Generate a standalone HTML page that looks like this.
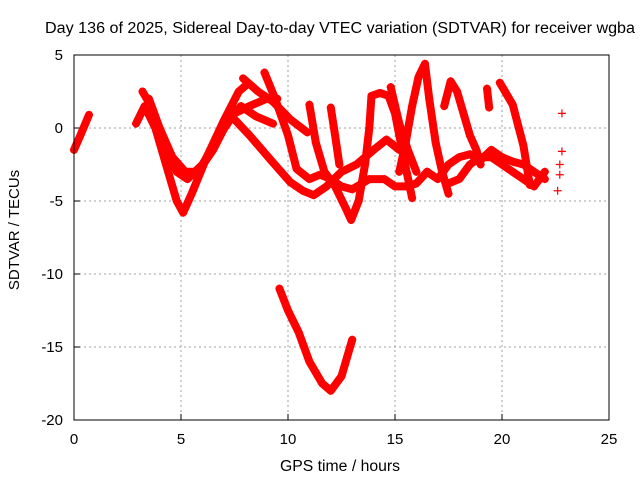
<!DOCTYPE html>
<html><head><meta charset="utf-8"><style>
body{margin:0;background:#fff}
svg{display:block;font-family:"Liberation Sans",sans-serif}
</style></head><body>
<svg id="chart" width="640" height="480">
<rect width="640" height="480" fill="#fff"/>
<text x="340" y="33" font-size="15.5" text-anchor="middle" textLength="590" lengthAdjust="spacingAndGlyphs">Day 136 of 2025, Sidereal Day-to-day VTEC variation (SDTVAR) for receiver wgba</text>
<text x="340" y="471" font-size="15.5" text-anchor="middle" textLength="120" lengthAdjust="spacingAndGlyphs">GPS time / hours</text>
<text transform="translate(19,230) rotate(-90)" font-size="15" text-anchor="middle">SDTVAR / TECUs</text>
<g id="grid"></g>
<g id="axes"></g>
<g id="marks"></g>
<rect x="74" y="55" width="535" height="365" fill="none" stroke="#000" stroke-width="1"/>
</svg>
<script>
const xTicks=[0,5,10,15,20,25];
const yTicks=[5,0,-5,-10,-15,-20];
const trackA=[[0,-1.5],[0.3,-0.5],[0.7,0.9]];
const trackB1=[[2.9,0.3],[3.3,1.5],[3.8,0],[4.3,-2.5],[4.8,-5],[5.1,-5.8],[5.5,-4.5],[6.2,-2],[7,0.5],[7.7,2.5],[8.1,3]];
const trackB2=[[3.2,2.5],[3.6,1.5],[4.2,-1],[4.8,-3],[5.3,-3.5],[6,-2.5],[6.8,-0.5],[7.5,1],[8.2,1.5],[9,2],[9.5,2]];
const trackB3=[[3.5,2],[4,0],[4.6,-2],[5.2,-3],[5.8,-3],[6.5,-1.5],[7.2,0.5],[7.8,1.5],[8.5,0.8],[9.3,0.3]];
const trackC1=[[7.9,3.4],[8.6,2.5],[9.3,1.8],[10.1,0.6],[10.9,-0.3]];
const trackC2=[[7.3,0.9],[8.2,-0.5],[9.2,-2.2],[10.1,-3.7],[10.7,-4.3],[11.2,-4.6],[11.8,-4],[12.5,-3],[13.2,-2.5],[14,-1.5],[14.6,-0.8],[15.2,-1.5]];
const trackD=[[8.9,3.8],[9.4,2],[10,-0.5],[10.4,-2.8],[11,-3.5],[11.5,-3.2],[12,-3.5],[12.5,-4],[13,-4.2],[13.8,-3.5],[14.5,-3.5],[15,-4],[15.5,-4],[16,-3.8],[16.5,-3]];
const trackE=[[11,1.6],[11.3,-1],[11.7,-3],[12.2,-4],[12.7,-5.5],[12.95,-6.3],[13.3,-5],[13.6,-2.5],[13.8,0],[13.9,2.2],[14.3,2.4],[14.7,2.2],[15,1],[15.4,-2],[15.8,-4.8]];
const trackF=[[12,1.4],[12.2,-0.5],[12.4,-2.5]];
const trackG=[[14.8,2.8],[15.2,0.3],[15.6,-1.5],[16,-3]];
const trackH=[[15.2,-3],[15.5,-1],[15.8,1.5],[16.1,3.5],[16.4,4.4],[16.6,2],[16.9,-1],[17.2,-3],[17.5,-4.5]];
const trackI=[[17.3,1.5],[17.6,3.2],[17.9,2.5],[18.2,1],[18.5,-0.5],[18.8,-1.5],[19,-2.5]];
const trackJ=[[19.3,2.7],[19.4,1.4]];
const trackK=[[19.9,3.1],[20.5,1.6],[21,-1.2],[21.3,-3.9]];
const trackL=[[16.5,-3],[17,-3.5],[17.5,-2.5],[18,-2],[18.5,-1.8],[19,-2.2],[19.5,-1.5],[20,-2],[20.5,-2.3],[21,-2.5],[21.5,-3],[22,-3.5]];
const trackM=[[17.5,-3.8],[18,-3.5],[18.5,-2.5],[19,-2],[19.5,-2],[20,-2.5],[20.5,-3],[21,-3.5],[21.5,-4],[22,-3]];
const trackN=[[9.6,-11],[10,-12.5],[10.5,-14],[11,-16],[11.6,-17.5],[12,-18],[12.5,-17],[13,-14.5]];
const isolated=[[22.8,1.0],[22.7,-2.5],[22.8,-1.6],[22.7,-3.2],[22.6,-4.3]];
const tracks=[trackA,trackB1,trackB2,trackB3,trackC1,trackC2,trackD,trackE,trackF,trackG,trackH,trackI,trackJ,trackK,trackL,trackM,trackN];
const X=t=>74+(t-0)*535/25;
const Y=v=>55+(5-v)*365/25;
const NS='http://www.w3.org/2000/svg';
const grid=document.getElementById('grid'),axes=document.getElementById('axes'),marks=document.getElementById('marks');
function mk(tag,at,parent){const e=document.createElementNS(NS,tag);for(const k in at)e.setAttribute(k,at[k]);parent.appendChild(e);return e;}
xTicks.forEach(t=>{
  if(t>0&&t<25){const g=mk('line',{x1:X(t),x2:X(t),y1:55,y2:420,stroke:'#a0a0a0','stroke-dasharray':'2,3'},grid);
  
  }
  const tk=mk('line',{x1:X(t),x2:X(t),y1:420,y2:414,stroke:'#000'},axes);
  
  
  const lb=mk('text',{x:X(t),y:444,'font-size':15,'text-anchor':'middle'},axes);lb.textContent=t;
  
  
});
yTicks.forEach(v=>{
  if(v<5&&v>-20){const g=mk('line',{x1:74,x2:609,y1:Y(v),y2:Y(v),stroke:'#a0a0a0','stroke-dasharray':'2,3'},grid);
  
  }
  const tk=mk('line',{x1:74,x2:80,y1:Y(v),y2:Y(v),stroke:'#000'},axes);
  
  
  const lb=mk('text',{x:63,y:Y(v)+5,'font-size':15,'text-anchor':'end'},axes);lb.textContent=v;
  
  
});
function plus(t,v){const x=X(t),y=Y(v);
  const p=mk('path',{d:`M${x-4},${y}H${x+4}M${x},${y-4}V${y+4}`,stroke:'#f00','stroke-width':1.2,fill:'none'},marks);
  
  }
tracks.forEach(tr=>{
  const pl=mk('polyline',{points:tr.map(p=>X(p[0])+','+Y(p[1])).join(' '),fill:'none',stroke:'#f00','stroke-width':8,'stroke-linejoin':'round','stroke-linecap':'round'},marks);
  
  
  tr.forEach(p=>plus(p[0],p[1]));
});
isolated.forEach(p=>plus(p[0],p[1]));
</script>
</body></html>
